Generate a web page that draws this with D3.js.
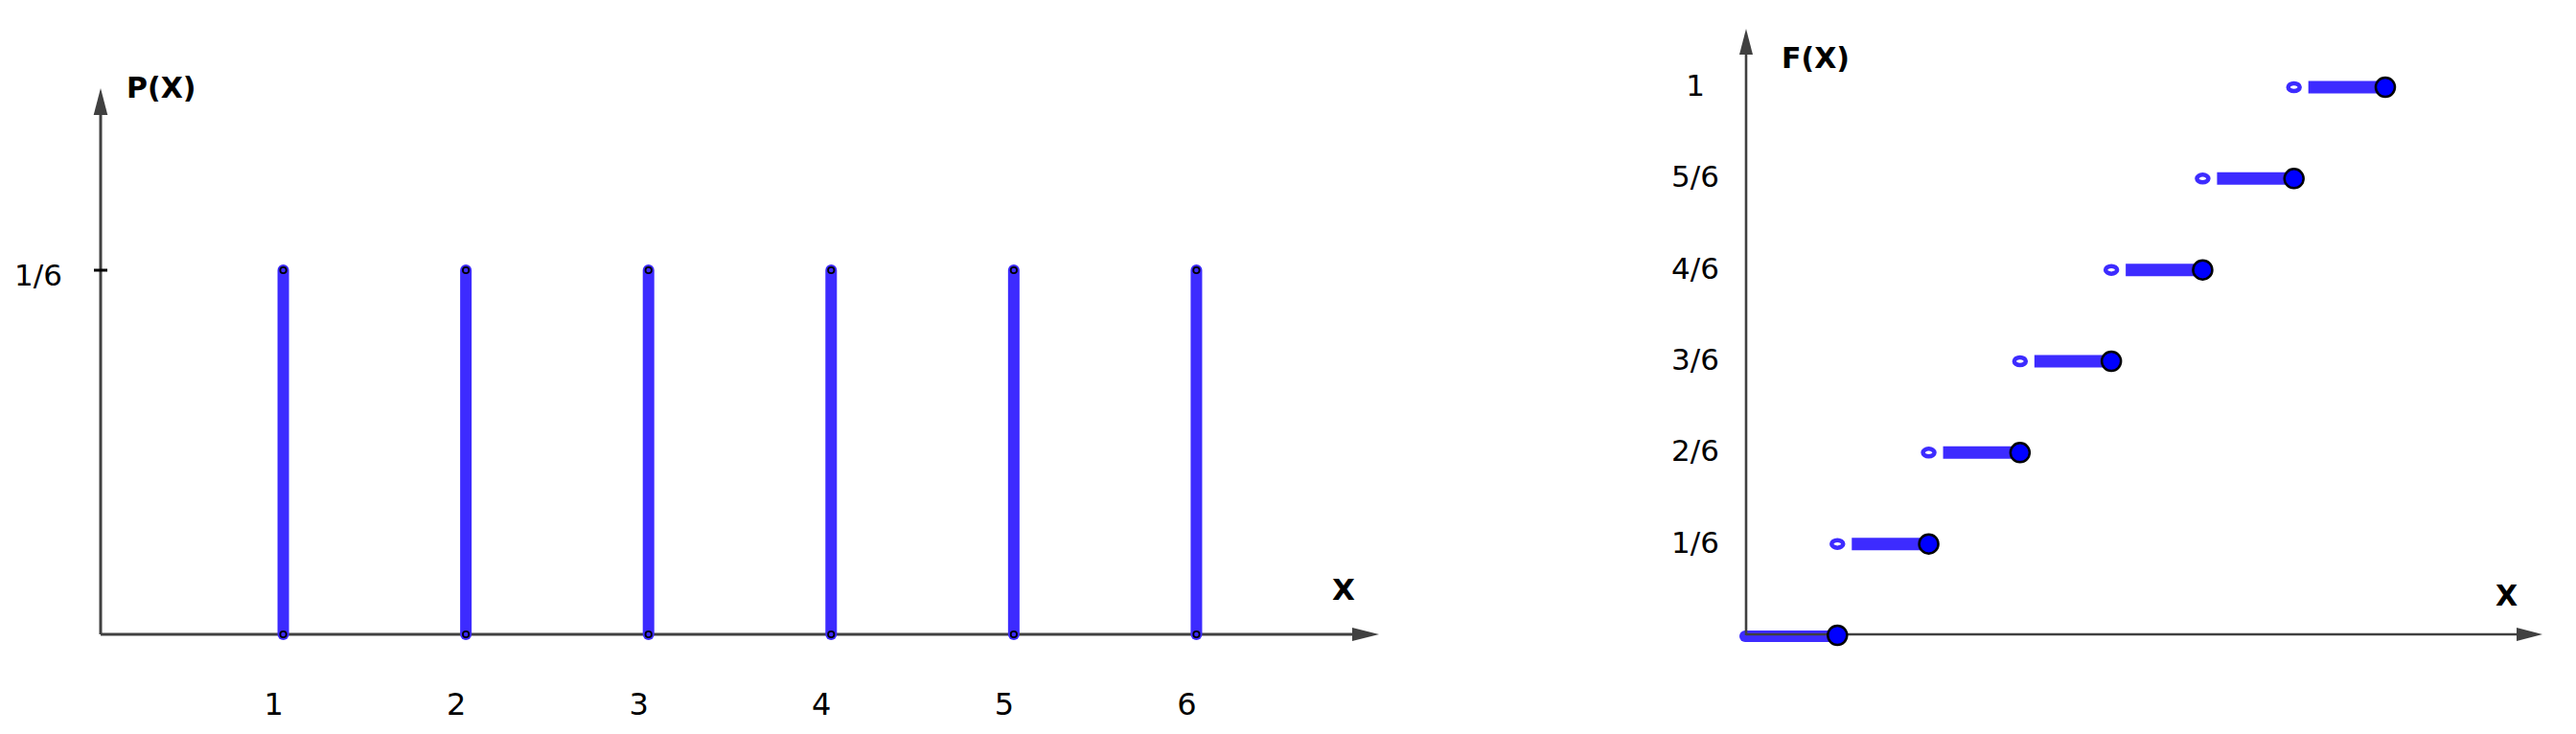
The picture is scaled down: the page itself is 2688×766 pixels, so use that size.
<!DOCTYPE html>
<html>
<head>
<meta charset="utf-8">
<script src="https://cdn.jsdelivr.net/npm/d3@7"></script>
<style>
  html, body { margin: 0; padding: 0; background: #fff; }
  svg { display: block; }
  text { font-family: "DejaVu Sans", sans-serif; fill: #000; }
</style>
</head>
<body>
<svg id="chart" width="2688" height="766"></svg>
<script>
// ---- data ----
const xValues = [1, 2, 3, 4, 5, 6];
const pValues = [1/6, 1/6, 1/6, 1/6, 1/6, 1/6];
const xTickLabels = ["1", "2", "3", "4", "5", "6"];
const pTickValues = [1/6];
const pTickLabels = ["1/6"];

const stepStarts = [0, 1, 2, 3, 4, 5, 6];
const stepEnds   = [1, 2, 3, 4, 5, 6, 7];
const stepValues = [0, 1/6, 2/6, 3/6, 4/6, 5/6, 1];
const fTickValues = [1/6, 2/6, 3/6, 4/6, 5/6, 1];
const fTickLabels = ["1/6", "2/6", "3/6", "4/6", "5/6", "1"];

// ---- styles ----
const AXIS = "#404040";
const BLUE = "#3d2bff";
const DOT = "#0000ff";

const svg = d3.select("#chart");

function arrowRight(g, x, y, len, hw) {
  g.append("path").attr("d", `M${x - len},${y - hw} L${x},${y} L${x - len},${y + hw} Z`).attr("fill", AXIS);
}
function arrowUp(g, x, y, len, hw) {
  g.append("path").attr("d", `M${x - hw},${y + len} L${x},${y} L${x + hw},${y + len} Z`).attr("fill", AXIS);
}

// ================= Left chart: P(X) =================
const xL = d3.scaleLinear().domain([0, 7]).range([105, 1439]);
const yL = d3.scaleLinear().domain([0, 1/6]).range([662, 282]);
const gL = svg.append("g");

// axes
gL.append("line").attr("x1", xL(0)).attr("y1", yL(0)).attr("x2", xL(7) - 26).attr("y2", yL(0))
  .attr("stroke", AXIS).attr("stroke-width", 3);
arrowRight(gL, xL(7), yL(0), 28, 7);
gL.append("line").attr("x1", xL(0)).attr("y1", yL(0)).attr("x2", xL(0)).attr("y2", 118)
  .attr("stroke", AXIS).attr("stroke-width", 3);
arrowUp(gL, xL(0), 92, 28, 7.3);

// y tick
gL.selectAll(".ytick").data(pTickValues).join("line")
  .attr("x1", xL(0) - 7).attr("x2", xL(0) + 7)
  .attr("y1", d => yL(d)).attr("y2", d => yL(d))
  .attr("stroke", "#000").attr("stroke-width", 3);
gL.selectAll(".ylab").data(pTickValues).join("text")
  .attr("x", 40).attr("y", d => yL(d) + 16)
  .attr("text-anchor", "middle").attr("font-size", 31)
  .text((d, i) => pTickLabels[i]);

// x labels
gL.selectAll(".xlab").data(xValues).join("text")
  .attr("x", d => xL(d) - 10).attr("y", 746)
  .attr("text-anchor", "middle").attr("font-size", 32)
  .text((d, i) => xTickLabels[i]);

// stems
gL.selectAll(".stem").data(xValues).join("line")
  .attr("x1", d => xL(d)).attr("x2", d => xL(d))
  .attr("y1", yL(0)).attr("y2", (d, i) => yL(pValues[i]))
  .attr("stroke", BLUE).attr("stroke-width", 12).attr("stroke-linecap", "round");
// small markers
const pts = [];
xValues.forEach((d, i) => { pts.push([d, 0]); pts.push([d, pValues[i]]); });
gL.selectAll(".mk").data(pts).join("circle")
  .attr("cx", d => xL(d[0])).attr("cy", d => yL(d[1])).attr("r", 3.2)
  .attr("fill", "none").attr("stroke", "#000").attr("stroke-width", 1.8);

// axis titles
gL.append("text").attr("x", 132).attr("y", 102).attr("font-size", 30).attr("font-weight", "bold").text("P(X)");
gL.append("text").attr("x", 1390).attr("y", 626).attr("font-size", 31).attr("font-weight", "bold").text("X");

// ================= Right chart: F(X) =================
const xR = d3.scaleLinear().domain([0, 7]).range([1822, 2489]);
const yR = d3.scaleLinear().domain([0, 1]).range([663, 91]);
const gR = svg.append("g");

// step bars
stepStarts.forEach((s, i) => {
  const y = yR(stepValues[i]);
  if (i === 0) {
    gR.append("line").attr("x1", xR(s) - 1).attr("x2", xR(stepEnds[i])).attr("y1", y + 1).attr("y2", y + 1)
      .attr("stroke", BLUE).attr("stroke-width", 12).attr("stroke-linecap", "round");
  } else {
    gR.append("line").attr("x1", xR(s) + 15).attr("x2", xR(stepEnds[i])).attr("y1", y).attr("y2", y)
      .attr("stroke", BLUE).attr("stroke-width", 13);
    gR.append("ellipse").attr("cx", xR(s)).attr("cy", y).attr("rx", 6).attr("ry", 4)
      .attr("fill", "none").attr("stroke", BLUE).attr("stroke-width", 4.5);
  }
});

// axes
gR.append("line").attr("x1", xR(0)).attr("y1", yR(0) - 1).attr("x2", 2628).attr("y2", yR(0) - 1)
  .attr("stroke", AXIS).attr("stroke-width", 2.6);
arrowRight(gR, 2653, yR(0) - 1, 27, 7);
gR.append("line").attr("x1", xR(0)).attr("y1", yR(0)).attr("x2", xR(0)).attr("y2", 55)
  .attr("stroke", AXIS).attr("stroke-width", 2.6);
arrowUp(gR, xR(0), 30, 27, 7);

// filled dots
gR.selectAll(".dot").data(stepEnds).join("circle")
  .attr("cx", d => xR(d)).attr("cy", (d, i) => yR(stepValues[i])).attr("r", 10)
  .attr("fill", DOT).attr("stroke", "#000").attr("stroke-width", 2.5);

// y labels
gR.selectAll(".flab").data(fTickValues).join("text")
  .attr("x", 1769).attr("y", d => yR(d) + 9)
  .attr("text-anchor", "middle").attr("font-size", 31)
  .text((d, i) => fTickLabels[i]);

gR.append("text").attr("x", 1859).attr("y", 71).attr("font-size", 30).attr("font-weight", "bold").text("F(X)");
gR.append("text").attr("x", 2604).attr("y", 632).attr("font-size", 30).attr("font-weight", "bold").text("X");
</script>
</body>
</html>
